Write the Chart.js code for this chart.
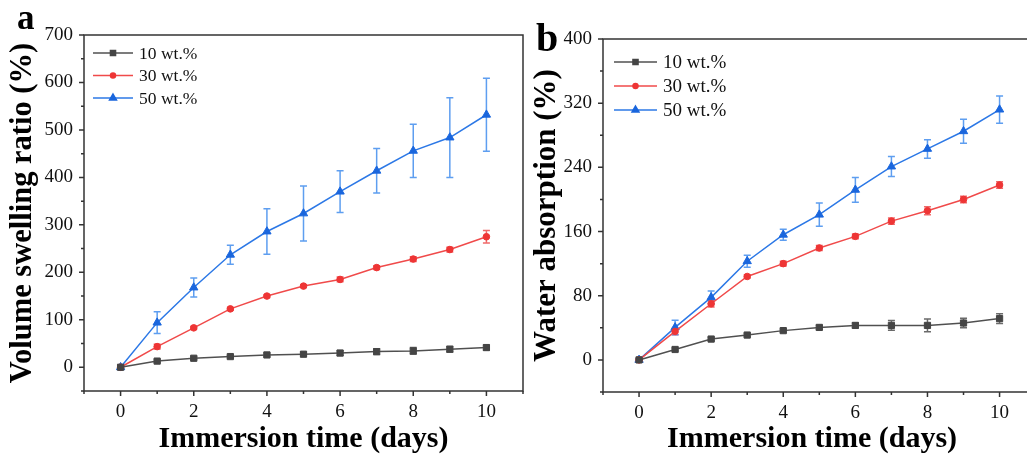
<!DOCTYPE html>
<html lang="en">
  <head>
    <meta charset="UTF-8" />
    <title>Swelling and water absorption</title>
    <script src="https://cdn.jsdelivr.net/npm/chart.js@4.4.1/dist/chart.umd.min.js"></script>
    <style>
      body {
        margin: 0;
        width: 1027px;
        height: 457px;
        overflow: hidden;
        background: #ffffff;
        position: relative;
        font-family: "Liberation Serif", "Times New Roman", serif;
      }
      .panel {
        position: absolute;
        top: 0;
        height: 457px;
      }
      #panelA {
        left: 0;
        width: 530px;
      }
      #panelB {
        left: 523px;
        width: 504px;
      }
      .tag {
        position: absolute;
        font-weight: bold;
        line-height: 1;
        color: #000;
      }
    </style>
  </head>
  <body>
    <div class="panel" id="panelA"><canvas id="chartA"></canvas></div>
    <div class="panel" id="panelB"><canvas id="chartB"></canvas></div>
    <div class="tag" style="left: 17px; top: 0px; font-size: 35px">a</div>
    <div class="tag" style="left: 536px; top: 18px; font-size: 40px">b</div>
    <script>
      // data
      const days = [0, 1, 2, 3, 4, 5, 6, 7, 8, 9, 10];
      const seriesLabels = ["10 wt.%", "30 wt.%", "50 wt.%"];

      // (a) volume swelling ratio (%)
      const swell10 = [0, 13, 19, 22.5, 26, 27.5, 30, 33, 34.5, 38, 41.5];
      const swell10Err = [2, 3, 3, 3, 4, 4, 5, 6, 7, 6, 5];
      const swell30 = [0, 43.5, 83, 123, 150, 171, 185, 210, 228, 248, 275];
      const swell30Err = [2, 5, 3, 3, 3, 3, 5, 4, 5, 5, 13];
      const swell50 = [0, 94, 168, 237, 286, 324, 370, 414, 456, 484, 532];
      const swell50Err = [2, 23, 20, 20, 48, 58, 44, 47, 56, 84, 77];

      // (b) water absorption (%)
      const water10 = [0, 13, 26, 31, 36.5, 40.5, 43, 43, 43, 46, 51.5];
      const water10Err = [1, 2, 2, 2, 2, 2.5, 3, 6, 8, 6, 6];
      const water30 = [0, 35.5, 70, 104, 120, 139.5, 154, 173, 186, 200, 218];
      const water30Err = [1, 4, 4, 2, 3, 3, 3, 4, 5, 4, 4];
      const water50 = [0, 40.5, 78, 123, 156, 181, 212, 241, 263, 285, 312];
      const water50Err = [1, 9, 8, 7.5, 7, 14.5, 15.5, 12.5, 11.5, 15, 17];

      const styles = [
        { line: "#505050", point: "#454545", err: "#6a6a6a", shape: "rect", r: 4.4 },
        { line: "#f04a4a", point: "#ee3535", err: "#f06a6a", shape: "circle", r: 3.3 },
        { line: "#2c78e6", point: "#1a66dd", err: "#5e9ef0", shape: "triangle", r: 4.8 },
      ];

      const serif = "'Liberation Serif', 'Times New Roman', serif";
      Chart.defaults.font.family = serif;
      Chart.defaults.color = "#111";

      function makeSets(values, errs) {
        return values.map((vals, i) => ({
          label: seriesLabels[i],
          data: days.map((d, j) => ({ x: d, y: vals[j] })),
          errors: errs[i],
          errColor: styles[i].err,
          borderColor: styles[i].line,
          backgroundColor: styles[i].point,
          pointBackgroundColor: styles[i].point,
          pointBorderColor: styles[i].point,
          pointStyle: styles[i].shape,
          pointRadius: styles[i].r,
          pointBorderWidth: 1,
          borderWidth: 1.5,
          tension: 0,
        }));
      }

      // error bars from each dataset's errors array
      const errorBars = {
        id: "errorBars",
        beforeDatasetsDraw(chart) {
          const ctx = chart.ctx;
          const ys = chart.scales.y;
          chart.data.datasets.forEach((ds, i) => {
            const meta = chart.getDatasetMeta(i);
            ctx.save();
            ctx.strokeStyle = ds.errColor;
            ctx.lineWidth = 1.5;
            meta.data.forEach((pt, j) => {
              const v = ds.data[j].y;
              const e = ds.errors[j];
              const top = ys.getPixelForValue(v + e);
              const bot = ys.getPixelForValue(v - e);
              ctx.beginPath();
              ctx.moveTo(pt.x, top);
              ctx.lineTo(pt.x, bot);
              ctx.moveTo(pt.x - 3.5, top);
              ctx.lineTo(pt.x + 3.5, top);
              ctx.moveTo(pt.x - 3.5, bot);
              ctx.lineTo(pt.x + 3.5, bot);
              ctx.stroke();
            });
            ctx.restore();
          });
        },
      };

      // frame box and outward ticks (major / minor)
      const frame = {
        id: "frame",
        afterDraw(chart, args, opts) {
          const ctx = chart.ctx;
          const a = chart.chartArea;
          const r = a.right + (opts.rightLine ? 0 : 20);
          ctx.save();
          ctx.strokeStyle = "#333";
          ctx.lineWidth = 1.5;
          ctx.beginPath();
          ctx.moveTo(r, a.top);
          ctx.lineTo(a.left, a.top);
          ctx.lineTo(a.left, a.bottom);
          ctx.lineTo(r, a.bottom);
          if (opts.rightLine) ctx.closePath();
          ctx.stroke();
          const xs = chart.scales.x;
          const ys = chart.scales.y;
          ctx.beginPath();
          xs.ticks.forEach((t) => {
            const px = xs.getPixelForValue(t.value);
            const len = t.label !== "" ? 5 : 3;
            ctx.moveTo(px, a.bottom);
            ctx.lineTo(px, a.bottom + len);
          });
          ys.ticks.forEach((t) => {
            const py = ys.getPixelForValue(t.value);
            const len = t.label !== "" ? 5 : 3;
            ctx.moveTo(a.left, py);
            ctx.lineTo(a.left - len, py);
          });
          ctx.stroke();
          ctx.restore();
        },
      };

      // legend drawn as line + marker + text
      const lineLegend = {
        id: "lineLegend",
        afterDraw(chart, args, opts) {
          const ctx = chart.ctx;
          const a = chart.chartArea;
          ctx.save();
          ctx.font = opts.size + "px " + serif;
          ctx.textBaseline = "middle";
          chart.data.datasets.forEach((ds, i) => {
            const y = a.top + opts.top + i * opts.gap;
            const x0 = a.left + opts.left;
            const x1 = x0 + opts.len;
            ctx.strokeStyle = ds.borderColor;
            ctx.lineWidth = 1.5;
            ctx.beginPath();
            ctx.moveTo(x0, y);
            ctx.lineTo(x1, y);
            ctx.stroke();
            ctx.fillStyle = ds.pointBackgroundColor;
            ctx.strokeStyle = ds.pointBorderColor;
            Chart.helpers.drawPoint(
              ctx,
              { pointStyle: ds.pointStyle, radius: ds.pointRadius - 0.8, borderWidth: 1 },
              (x0 + x1) / 2,
              y
            );
            ctx.fillStyle = "#111";
            ctx.fillText(ds.label, x1 + 6, y + 1);
          });
          ctx.restore();
        },
      };

      function makeChart(id, sets, cfg) {
        return new Chart(document.getElementById(id), {
          type: "line",
          data: { datasets: sets },
          plugins: [errorBars, frame, lineLegend],
          options: {
            responsive: true,
            maintainAspectRatio: false,
            animation: false,
            layout: { padding: { top: cfg.top, right: cfg.right, left: 0, bottom: 0 } },
            plugins: {
              legend: { display: false },
              tooltip: { enabled: false },
              lineLegend: cfg.legend,
              frame: { rightLine: cfg.rightLine },
            },
            scales: {
              x: {
                type: "linear",
                min: -1,
                max: cfg.xMax,
                afterFit: (s) => {
                  s.height = cfg.xHeight;
                  s.paddingLeft = 0;
                  s.paddingRight = 0;
                },
                ticks: {
                  stepSize: 1,
                  autoSkip: false,
                  includeBounds: false,
                  maxRotation: 0,
                  padding: 10,
                  font: { size: 19 },
                  color: "#111",
                  callback: (v) => (v >= 0 && v <= 10 && v % 2 === 0 ? v : ""),
                },
                grid: { display: true, drawOnChartArea: false, drawTicks: false },
                border: { display: false },
                title: {
                  display: true,
                  text: "Immersion time (days)",
                  font: { size: 30, weight: "bold" },
                  color: "#000",
                  padding: { top: 0, bottom: 0 },
                },
              },
              y: {
                min: cfg.yMin,
                max: cfg.yMax,
                afterFit: (s) => {
                  s.width = cfg.yWidth;
                  s.paddingTop = 0;
                  s.paddingBottom = 0;
                },
                ticks: {
                  stepSize: cfg.yStep / 2,
                  autoSkip: false,
                  padding: 11,
                  font: { size: 19 },
                  color: "#111",
                  callback: (v) => (v >= 0 && v % cfg.yStep === 0 ? v : ""),
                },
                grid: { display: true, drawOnChartArea: false, drawTicks: false },
                border: { display: false },
                title: {
                  display: true,
                  text: cfg.yTitle,
                  font: { size: cfg.yTitleSize, weight: "bold" },
                  color: "#000",
                  padding: { top: 5, bottom: 0 },
                },
              },
            },
          },
        });
      }

      makeChart("chartA", makeSets([swell10, swell30, swell50], [swell10Err, swell30Err, swell50Err]), {
        top: 35,
        right: 7,
        xMax: 11,
        rightLine: true,
        xHeight: 66,
        yWidth: 84,
        yMin: -50,
        yMax: 700,
        yStep: 100,
        yTitle: "Volume swelling ratio (%)",
        yTitleSize: 30.5,
        legend: { left: 9, top: 18, gap: 22.5, len: 40, size: 17.5 },
      });

      makeChart("chartB", makeSets([water10, water30, water50], [water10Err, water30Err, water50Err]), {
        top: 39,
        right: 0,
        xMax: 10.6,
        rightLine: false,
        xHeight: 65,
        yWidth: 80,
        yMin: -40,
        yMax: 400,
        yStep: 80,
        yTitle: "Water absorption (%)",
        yTitleSize: 31,
        legend: { left: 11, top: 23, gap: 24, len: 43, size: 19 },
      });
    </script>
  </body>
</html>
